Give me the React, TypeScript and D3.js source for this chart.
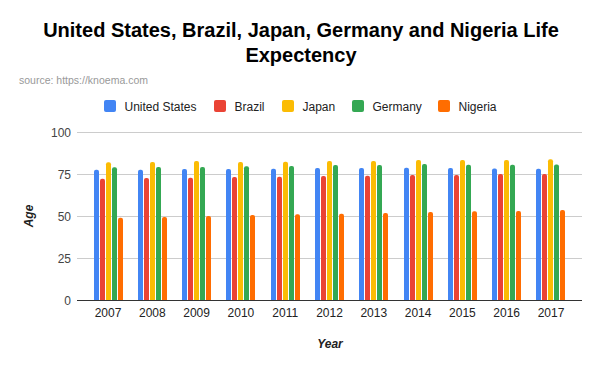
import React, { useEffect, useRef } from "react";
import * as d3 from "d3";

const years = ["2007", "2008", "2009", "2010", "2011", "2012", "2013", "2014", "2015", "2016", "2017"];
const countries = ["United States", "Brazil", "Japan", "Germany", "Nigeria"];
const colors = ["#4285F4", "#EA4335", "#FBBC04", "#34A853", "#FF6D01"];

const unitedStates = [77.5, 77.6, 78.0, 78.0, 78.1, 78.5, 78.6, 78.7, 78.6, 78.2, 78.1];
const brazil = [72.1, 72.6, 72.7, 73.2, 73.3, 73.8, 73.9, 74.4, 74.4, 75.0, 75.0];
const japan = [82.0, 82.1, 82.7, 82.2, 82.3, 82.7, 82.8, 83.3, 83.3, 83.3, 83.8];
const germany = [79.0, 79.1, 79.1, 79.6, 79.8, 80.4, 80.4, 81.0, 80.5, 80.5, 80.6];
const nigeria = [48.9, 49.4, 50.0, 50.6, 51.1, 51.3, 51.8, 52.4, 52.9, 53.0, 53.5];

const yTicks = [0, 25, 50, 75, 100];

const series = [unitedStates, brazil, japan, germany, nigeria];

export default function App() {
  const svgRef = useRef<SVGSVGElement>(null);

  useEffect(() => {
    const svg = d3.select(svgRef.current);
    svg.selectAll("*").remove();

    const font = "Arial, 'Liberation Sans', sans-serif";
    const left = 77;
    const right = 582;
    const top = 132;
    const bottom = 300;

    // title
    const title = svg
      .append("text")
      .attr("text-anchor", "middle")
      .attr("font-family", font)
      .attr("font-weight", "bold")
      .attr("font-size", "20px")
      .attr("fill", "#000");
    title.append("tspan").attr("x", 301).attr("y", 37).text("United States, Brazil, Japan, Germany and Nigeria Life");
    title.append("tspan").attr("x", 301).attr("y", 62).text("Expectency");

    svg
      .append("text")
      .attr("x", 19)
      .attr("y", 84)
      .attr("font-family", font)
      .attr("font-size", "10.5px")
      .attr("fill", "#999")
      .text("source: https://knoema.com");

    // legend
    const legendX = [104, 214, 282, 352, 438];
    const legend = svg
      .selectAll(".legend")
      .data(countries)
      .enter()
      .append("g")
      .attr("class", "legend")
      .attr("transform", (d, i) => "translate(" + legendX[i] + ",100)");
    legend
      .append("rect")
      .attr("width", 12)
      .attr("height", 12)
      .attr("rx", 2)
      .attr("fill", (d, i) => colors[i]);
    legend
      .append("text")
      .attr("x", 20.5)
      .attr("y", 10.5)
      .attr("font-family", font)
      .attr("font-size", "12px")
      .attr("fill", "#222")
      .text(d => d);

    const y = d3.scaleLinear().domain([0, 100]).range([bottom, top]);

    const x = d3
      .scaleBand()
      .domain(years)
      .range([left, right])
      .paddingInner(0.3454)
      .paddingOuter(0.3727);

    const xInner = d3
      .scaleBand()
      .domain(countries)
      .range([0, x.bandwidth()])
      .paddingInner(1 / 6);

    // gridlines
    svg
      .append("g")
      .selectAll("line")
      .data(yTicks.filter(t => t > 0))
      .enter()
      .append("line")
      .attr("x1", left)
      .attr("x2", right)
      .attr("y1", d => y(d) + 0.5)
      .attr("y2", d => y(d) + 0.5)
      .attr("stroke", "#cccccc")
      .attr("stroke-width", 1);

    // y tick labels
    svg
      .append("g")
      .selectAll("text")
      .data(yTicks)
      .enter()
      .append("text")
      .attr("x", 71)
      .attr("y", d => y(d) + 4.5)
      .attr("text-anchor", "end")
      .attr("font-family", font)
      .attr("font-size", "12px")
      .attr("fill", "#444")
      .text(d => d);

    // bars
    const groups = svg
      .append("g")
      .selectAll("g")
      .data(years)
      .enter()
      .append("g")
      .attr("transform", d => "translate(" + Math.round(x(d)) + ",0)");

    groups
      .selectAll("path")
      .data((d, i) => countries.map((c, k) => ({ c, k, v: series[k][i] })))
      .enter()
      .append("path")
      .attr("fill", d => colors[d.k])
      .attr("d", d => {
        const x0 = Math.round(xInner(d.c));
        const w = Math.round(xInner.bandwidth());
        const y0 = y(d.v);
        const r = 2;
        return (
          "M" + x0 + "," + bottom +
          "V" + (y0 + r) +
          "Q" + x0 + "," + y0 + " " + (x0 + r) + "," + y0 +
          "H" + (x0 + w - r) +
          "Q" + (x0 + w) + "," + y0 + " " + (x0 + w) + "," + (y0 + r) +
          "V" + bottom + "Z"
        );
      });

    // baseline
    svg
      .append("line")
      .attr("x1", left)
      .attr("x2", right)
      .attr("y1", bottom + 0.5)
      .attr("y2", bottom + 0.5)
      .attr("stroke", "#333")
      .attr("stroke-width", 1);

    // x tick labels
    svg
      .append("g")
      .selectAll("text")
      .data(years)
      .enter()
      .append("text")
      .attr("x", d => x(d) + x.bandwidth() / 2)
      .attr("y", 317)
      .attr("text-anchor", "middle")
      .attr("font-family", font)
      .attr("font-size", "12px")
      .attr("fill", "#222")
      .text(d => d);

    // axis titles
    svg
      .append("text")
      .attr("x", 330)
      .attr("y", 348)
      .attr("text-anchor", "middle")
      .attr("font-family", font)
      .attr("font-size", "12px")
      .attr("font-weight", "bold")
      .attr("font-style", "italic")
      .attr("fill", "#222")
      .text("Year");

    svg
      .append("text")
      .attr("transform", "translate(33," + (top + bottom) / 2 + ") rotate(-90)")
      .attr("text-anchor", "middle")
      .attr("font-family", font)
      .attr("font-size", "12px")
      .attr("font-weight", "bold")
      .attr("font-style", "italic")
      .attr("fill", "#222")
      .text("Age");
  }, []);

  return (
    <svg
      ref={svgRef}
      width={600}
      height={371}
      style={{ position: "absolute", left: 0, top: 0, background: "#fff" }}
    />
  );
}
